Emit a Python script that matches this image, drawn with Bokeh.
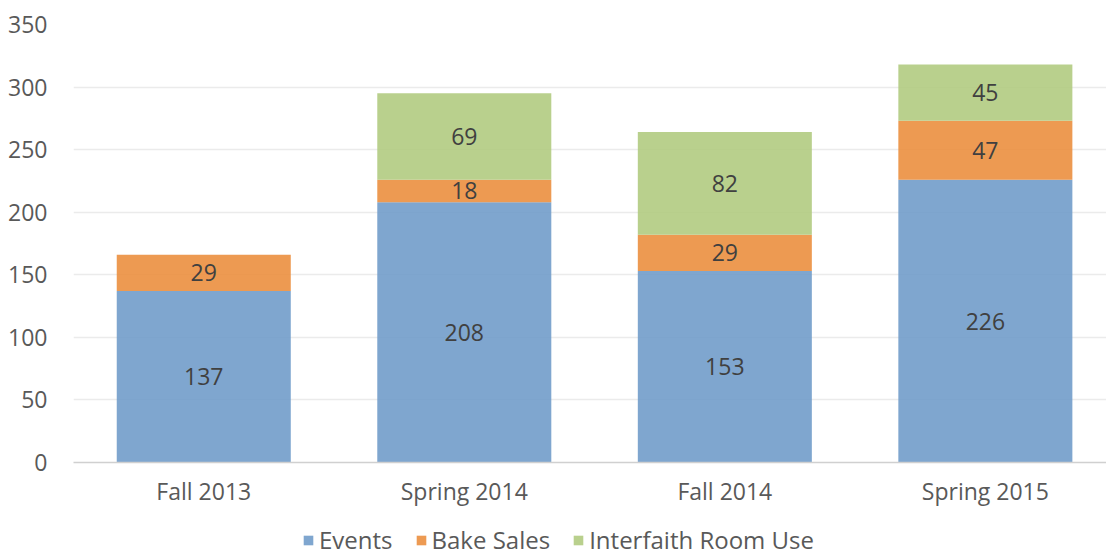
from bokeh.plotting import figure
from bokeh.models import ColumnDataSource, Legend, LegendItem, Range1d, FixedTicker
from bokeh.layouts import column
from bokeh.embed import file_html
from bokeh.resources import INLINE
from bokeh.core.properties import value

terms = ["Fall 2013", "Spring 2014", "Fall 2014", "Spring 2015"]
events = [137, 208, 153, 226]
bake_sales = [29, 18, 29, 47]
interfaith = [0, 69, 82, 45]
series_names = ["Events", "Bake Sales", "Interfaith Room Use"]
y_ticks = [0, 50, 100, 150, 200, 250, 300, 350]

colors = ["#719CCA", "#EB8F3F", "#B1CB81"]
FONT = "Open Sans"

xs = [i + 1 for i in range(len(terms))]
src = ColumnDataSource(dict(x=xs, events=events, bake=bake_sales, inter=interfaith))

p = figure(width=1106, height=509, output_backend="svg", toolbar_location=None,
           x_range=Range1d(0.5, 4.465), y_range=Range1d(0, 350),
           min_border_left=73, min_border_right=0, min_border_top=24, min_border_bottom=40)
p.outline_line_color = None
p.background_fill_color = "white"
p.border_fill_color = "white"

rs = p.vbar_stack(["events", "bake", "inter"], x="x", width=0.668, source=src,
                  color=colors, fill_alpha=0.9, line_color=None)

# labels
lx, ly, lt = [], [], []
for i, x in enumerate(xs):
    base = 0
    for vals in (events, bake_sales, interfaith):
        v = vals[i]
        if v > 0:
            lx.append(x)
            ly.append(base + v / 2)
            lt.append(str(v))
        base += v
lsrc = ColumnDataSource(dict(x=lx, y=ly, t=lt))
p.text(x="x", y="y", text="t", source=lsrc, text_align="center", text_baseline="middle",
       text_font=value(FONT), text_font_size="23px", text_color="#404040")

# axes
p.xaxis.ticker = FixedTicker(ticks=xs)
p.xaxis.major_label_overrides = {x: t for x, t in zip(xs, terms)}
p.xaxis.major_tick_line_color = None
p.xaxis.minor_tick_line_color = None
p.xaxis.axis_line_color = "#D0D0D0"
p.xaxis.axis_line_width = 1.5
p.xaxis.major_label_text_font = FONT
p.xaxis.major_label_text_font_size = "23px"
p.xaxis.major_label_text_color = "#595959"
p.xaxis.major_label_standoff = 6

p.yaxis.ticker = FixedTicker(ticks=y_ticks)
p.yaxis.major_tick_line_color = None
p.yaxis.minor_tick_line_color = None
p.yaxis.axis_line_color = None
p.yaxis.major_label_text_font = FONT
p.yaxis.major_label_text_font_size = "23px"
p.yaxis.major_label_text_color = "#595959"
p.yaxis.major_label_standoff = 20

p.xgrid.grid_line_color = None
p.ygrid.grid_line_color = "#EBEBEB"
p.ygrid.grid_line_width = 1.5

# legend strip below the chart
q = figure(width=1106, height=47, output_backend="svg", toolbar_location=None,
           x_range=Range1d(0, 1), y_range=Range1d(0, 1),
           min_border=0, min_border_left=73, min_border_right=0, min_border_top=0, min_border_bottom=0)
q.axis.visible = False
q.grid.visible = False
q.outline_line_color = None
q.border_fill_color = "white"
offscreen = ColumnDataSource(dict(x=[-10], top=[-10]))
dummies = [q.vbar(x="x", top="top", width=0.1, source=offscreen, fill_color=c, fill_alpha=0.9,
                  line_color=None) for c in colors]
legend = Legend(items=[LegendItem(label=n, renderers=[r]) for n, r in zip(series_names, dummies)],
                orientation="horizontal", location=(229, 0),
                label_text_font=FONT, label_text_font_size="24px", label_text_color="#595959",
                glyph_width=12, glyph_height=12, spacing=22, label_standoff=5,
                border_line_color=None, background_fill_alpha=0, padding=0, margin=0)
q.add_layout(legend, "center")

layout = column(p, q, spacing=0)
open("out.html", "w").write(file_html(layout, INLINE))
